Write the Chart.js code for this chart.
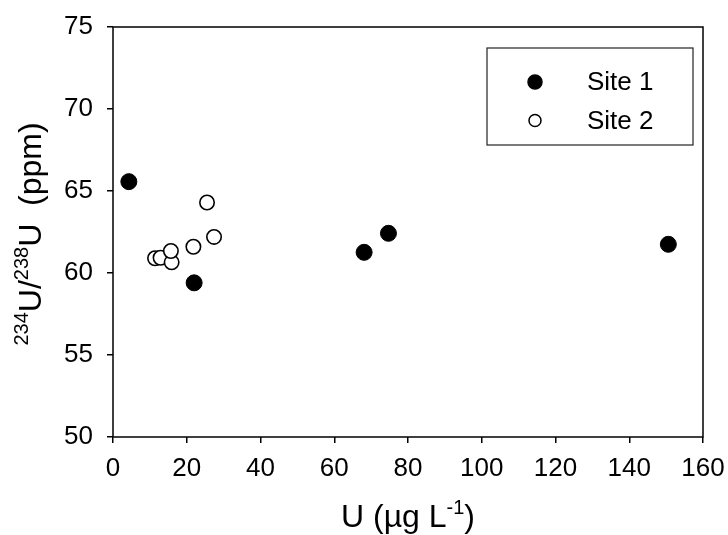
<!DOCTYPE html>
<html>
<head>
<meta charset="utf-8">
<script src="https://cdn.jsdelivr.net/npm/chart.js@4"></script>
<style>
  html, body { margin: 0; padding: 0; background: #fff; }
  #wrap { width: 728px; height: 535px; }
</style>
</head>
<body>
<div id="wrap"><canvas id="uChart" width="728" height="535"></canvas></div>
<script>
const seriesNames = ["Site 1", "Site 2"];
const site1U = [4.3, 22.0, 68.1, 74.7, 150.6];
const site1Ratio = [65.57, 59.4, 61.26, 62.42, 61.75];
const site2U = [11.4, 12.9, 15.9, 15.7, 21.8, 27.4, 25.5];
const site2Ratio = [60.9, 60.93, 60.65, 61.34, 61.6, 62.2, 64.3];
const xTicks = [0, 20, 40, 60, 80, 100, 120, 140, 160];
const yTicks = [50, 55, 60, 65, 70, 75];

const FONT = "'Liberation Sans', Arial, sans-serif";

const toPoints = (xs, ys) => xs.map((x, i) => ({ x: x, y: ys[i] }));

// frame around the plot area
const framePlugin = {
    id: "frame",
    beforeDatasetsDraw(chart) {
        const { ctx, chartArea: a } = chart;
        ctx.save();
        ctx.strokeStyle = "#000";
        ctx.lineWidth = 1.5;
        ctx.strokeRect(a.left, a.top, a.right - a.left, a.bottom - a.top);
        ctx.restore();
    }
};

// draws text runs, some of them superscript, centred on 0
function drawRuns(ctx, runs, big, small) {
    let total = 0;
    runs.forEach(r => {
        ctx.font = (r.sup ? small : big) + "px " + FONT;
        r.w = ctx.measureText(r.t).width;
        total += r.w;
    });
    let x = -total / 2;
    runs.forEach(r => {
        ctx.font = (r.sup ? small : big) + "px " + FONT;
        ctx.fillText(r.t, x, r.sup ? -13 : 0);
        x += r.w;
    });
}

const titlePlugin = {
    id: "axisTitles",
    afterDraw(chart) {
        const ctx = chart.ctx;
        const a = chart.chartArea;
        ctx.save();
        ctx.fillStyle = "#000";
        ctx.textBaseline = "alphabetic";
        ctx.textAlign = "left";
        // x title
        ctx.save();
        ctx.translate((a.left + a.right) / 2, 527);
        drawRuns(ctx, [{ t: "U (\u00b5g L" }, { t: "-1", sup: true }, { t: ")" }], 32, 20);
        ctx.restore();
        // y title
        ctx.save();
        ctx.translate(41, 234);
        ctx.rotate(-Math.PI / 2);
        drawRuns(ctx, [{ t: "234", sup: true }, { t: "U/" }, { t: "238", sup: true }, { t: "U  (ppm)" }], 32, 20);
        ctx.restore();
        ctx.restore();
    }
};

const legendPlugin = {
    id: "boxLegend",
    afterDraw(chart) {
        const ctx = chart.ctx;
        ctx.save();
        ctx.strokeStyle = "#222";
        ctx.lineWidth = 1.2;
        ctx.strokeRect(487, 48, 206, 97);
        ctx.font = "26px " + FONT;
        ctx.textBaseline = "middle";
        ctx.textAlign = "left";
        chart.data.datasets.forEach((ds, i) => {
            const y = 82 + i * 38.5;
            ctx.beginPath();
            ctx.arc(535, y, i === 0 ? 7 : 6, 0, Math.PI * 2);
            ctx.fillStyle = ds.backgroundColor;
            ctx.fill();
            ctx.lineWidth = 1.5;
            ctx.strokeStyle = "#000";
            ctx.stroke();
            ctx.fillStyle = "#000";
            ctx.fillText(ds.label, 587, y + 1);
        });
        ctx.restore();
    }
};

new Chart(document.getElementById("uChart").getContext("2d"), {
    type: "scatter",
    data: {
        datasets: [{
            label: seriesNames[0],
            data: toPoints(site1U, site1Ratio),
            backgroundColor: "#000",
            borderColor: "#000",
            borderWidth: 1,
            pointRadius: 8,
        }, {
            label: seriesNames[1],
            data: toPoints(site2U, site2Ratio),
            backgroundColor: "#fff",
            borderColor: "#000",
            borderWidth: 1.6,
            pointRadius: 7.2,
        }],
    },
    options: {
        responsive: false,
        animation: false,
        layout: { padding: { left: 0, right: 25, top: 27, bottom: 0 } },
        plugins: {
            legend: { display: false },
            tooltip: { enabled: false },
        },
        scales: {
            x: {
                type: "linear",
                min: xTicks[0],
                max: xTicks[xTicks.length - 1],
                afterBuildTicks: (s) => { s.ticks = xTicks.map(v => ({ value: v })); },
                afterFit: (s) => { s.height = 98; s.paddingLeft = 0; s.paddingRight = 0; },
                border: { display: false },
                grid: { drawOnChartArea: false, drawTicks: true, tickLength: 6, color: "#000", lineWidth: 1.5 },
                ticks: { color: "#000", font: { family: FONT, size: 26 }, padding: 10, maxRotation: 0 },
            },
            y: {
                type: "linear",
                min: yTicks[0],
                max: yTicks[yTicks.length - 1],
                afterBuildTicks: (s) => { s.ticks = yTicks.map(v => ({ value: v })); },
                afterFit: (s) => { s.width = 113; s.paddingTop = 0; s.paddingBottom = 0; },
                border: { display: false },
                grid: { drawOnChartArea: false, drawTicks: true, tickLength: 6, color: "#000", lineWidth: 1.5 },
                ticks: { color: "#000", font: { family: FONT, size: 26 }, padding: 14 },
            },
        },
    },
    plugins: [framePlugin, titlePlugin, legendPlugin],
});
</script>
</body>
</html>
